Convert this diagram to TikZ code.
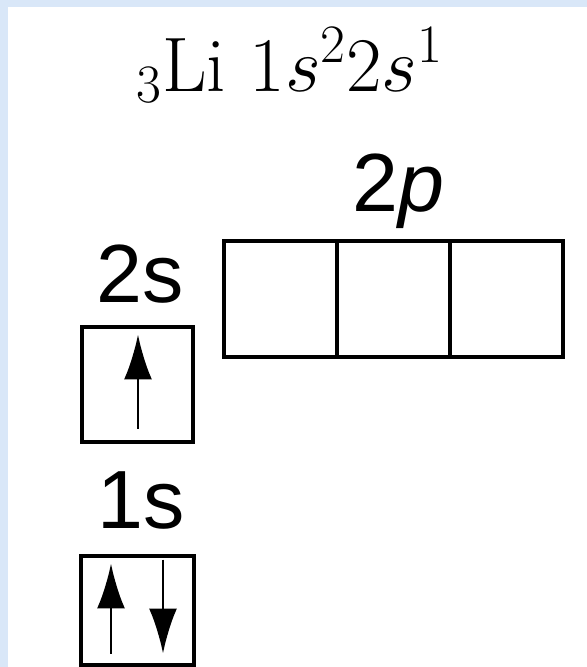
\documentclass[tikz,border=0pt]{standalone}
\usepackage{fix-cm}
\usepackage{fontspec}
\newfontfamily\arialfont{Liberation Sans}
\usetikzlibrary{calc,arrows.meta}
\definecolor{frameblue}{HTML}{D9E7F8}

\begin{document}
\begin{tikzpicture}[x=0.02cm,y=-0.02cm,
  orb/.style={draw,line width=2.2pt,minimum width=2.26cm,minimum height=2.32cm,inner sep=0pt},
  lbl/.style={font=\arialfont\fontsize{47}{52}\selectfont,inner sep=0pt,anchor=base},
  spin/.style={line width=1.6pt,-{Latex[length=9mm,width=5.6mm]}}]
  \fill[frameblue] (0,0) rectangle (587,667);
  \fill[white] (8,7) rectangle (587,667);
  \useasboundingbox (0,0) rectangle (587,667);
  % configuration
  \node[inner sep=0pt,anchor=base,font=\fontsize{44}{50}\selectfont] (config) at (290,91)
       {${}_3$Li $1s^2 2s^1$};
  % 2p orbitals
  \node[lbl] (lbl2p) at (398,211) {2\textit{p}};
  \node[orb] (p1) at (280.5,299) {};
  \node[orb] (p2) at (393.5,299) {};
  \node[orb] (p3) at (506.5,299) {};
  % 2s orbital, one electron
  \node[lbl] (lbl2s) at (140,302) {2s};
  \node[orb,minimum width=2.22cm,minimum height=2.3cm] (s2) at (137.5,384.5) {};
  \draw[spin] ($(s2.center)+(0.5,44)$) -- ($(s2.center)+(0.5,-50)$);
  % 1s orbital, paired
  \node[lbl] (lbl1s) at (141,528) {1s};
  \node[orb,minimum height=2.18cm] (s1) at (137.5,610.5) {};
  \draw[spin] ($(s1.center)+(-26.5,43)$) -- ($(s1.center)+(-26.5,-47)$);
  \draw[spin] ($(s1.center)+(25.5,-51)$) -- ($(s1.center)+(25.5,43)$);
\end{tikzpicture}
\end{document}
